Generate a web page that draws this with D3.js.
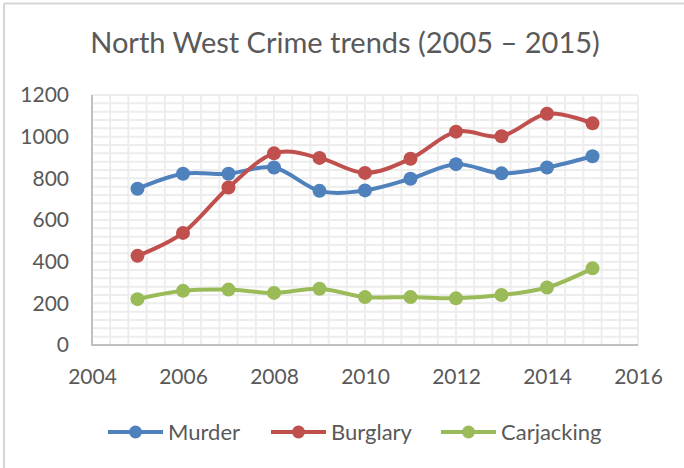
<!DOCTYPE html>
<html>
<head>
<meta charset="utf-8">
<script src="https://cdn.jsdelivr.net/npm/d3@7"></script>
<style>
  html, body { margin: 0; padding: 0; background: #ffffff; }
  svg { display: block; font-family: Lato, "Open Sans", sans-serif; }
</style>
</head>
<body>
<svg id="chart" width="684" height="468"></svg>
<script>
// Crime counts per year, North West region
const years = [2005, 2006, 2007, 2008, 2009, 2010, 2011, 2012, 2013, 2014, 2015];
const murder     = [750, 822, 822, 852, 740, 742, 798, 868, 824, 852, 906];
const burglary   = [428, 538, 756, 920, 898, 826, 894, 1024, 1002, 1110, 1064];
const carjacking = [220, 260, 266, 250, 270, 230, 230, 224, 240, 276, 368];

const seriesNames  = ["Murder", "Burglary", "Carjacking"];
const seriesColors = ["#4f81bd", "#c0504d", "#9bbb59"];

const xTicks = [2004, 2006, 2008, 2010, 2012, 2014, 2016];
const yTicks = [0, 200, 400, 600, 800, 1000, 1200];

const titleText = "North West Crime trends (2005 \u2013 2015)";

const svg = d3.select("#chart");
const W = 684, H = 468;
const plot = { left: 92, right: 638, top: 95, bottom: 345 };

const x = d3.scaleLinear().domain([2004, 2016]).range([plot.left, plot.right]);
const y = d3.scaleLinear().domain([0, 1200]).range([plot.bottom, plot.top]);

// chart frame (left and top edges visible)
svg.append("line").attr("x1", 4).attr("x2", W).attr("y1", 3.5).attr("y2", 3.5)
  .attr("stroke", "#d6d6d6").attr("stroke-width", 2);
svg.append("line").attr("x1", 4).attr("x2", 4).attr("y1", 3.5).attr("y2", H)
  .attr("stroke", "#d6d6d6").attr("stroke-width", 2);

// title
svg.append("text")
  .attr("x", 345).attr("y", 53)
  .attr("text-anchor", "middle")
  .attr("font-size", 29)
  .attr("fill", "#595959")
  .text(titleText);

// minor gridlines
const gx = d3.range(0, 31).map(i => 2004 + i * 0.4);
const gy = d3.range(0, 31).map(i => i * 40);
const grid = svg.append("g").attr("stroke", "#ededed").attr("stroke-width", 2);
grid.selectAll("line.v").data(gx).join("line").attr("class", "v")
  .attr("x1", d => x(d)).attr("x2", d => x(d))
  .attr("y1", plot.top).attr("y2", plot.bottom);
grid.selectAll("line.h").data(gy).join("line").attr("class", "h")
  .attr("x1", plot.left).attr("x2", plot.right)
  .attr("y1", d => y(d)).attr("y2", d => y(d));

// axes
const yAxis = svg.append("g")
  .attr("transform", `translate(${plot.left},0)`)
  .call(d3.axisLeft(y).tickValues(yTicks).tickFormat(d3.format("d")).tickSize(0).tickPadding(23));
const xAxis = svg.append("g")
  .attr("transform", `translate(0,${plot.bottom})`)
  .call(d3.axisBottom(x).tickValues(xTicks).tickFormat(d3.format("d")).tickSize(0).tickPadding(24));
[yAxis, xAxis].forEach(a => {
  a.select(".domain").remove();
  a.selectAll("text").attr("font-size", 21).attr("fill", "#595959")
    .attr("font-family", "Lato, 'Open Sans', sans-serif");
});
svg.append("line").attr("x1", plot.left).attr("x2", plot.left)
  .attr("y1", plot.top).attr("y2", plot.bottom + 1)
  .attr("stroke", "#bfbfbf").attr("stroke-width", 2);
svg.append("line").attr("x1", plot.left).attr("x2", plot.right)
  .attr("y1", plot.bottom).attr("y2", plot.bottom)
  .attr("stroke", "#bfbfbf").attr("stroke-width", 2);

// series
const seriesData = [murder, burglary, carjacking];
const line = d3.line()
  .x(d => x(d.year)).y(d => y(d.value))
  .curve(d3.curveCardinal.tension(0));

seriesData.forEach((vals, i) => {
  const pts = years.map((yr, j) => ({ year: yr, value: vals[j] }));
  const g = svg.append("g");
  g.append("path").datum(pts)
    .attr("d", line)
    .attr("fill", "none")
    .attr("stroke", seriesColors[i])
    .attr("stroke-width", 4)
    .attr("stroke-linejoin", "round");
  g.selectAll("circle").data(pts).join("circle")
    .attr("cx", d => x(d.year)).attr("cy", d => y(d.value))
    .attr("r", 7)
    .attr("fill", seriesColors[i]);
});

// legend
const legendY = 432;
const legendX = [108, 271, 441];
seriesNames.forEach((name, i) => {
  const g = svg.append("g").attr("transform", `translate(${legendX[i]},${legendY})`);
  g.append("line").attr("x1", 0).attr("x2", 55).attr("y1", 0).attr("y2", 0)
    .attr("stroke", seriesColors[i]).attr("stroke-width", 4);
  g.append("circle").attr("cx", 27.5).attr("cy", 0).attr("r", 6.5).attr("fill", seriesColors[i]);
  g.append("text").attr("x", 60).attr("y", 0).attr("dy", "0.35em")
    .attr("font-size", 22).attr("fill", "#595959").text(name);
});
</script>
</body>
</html>
